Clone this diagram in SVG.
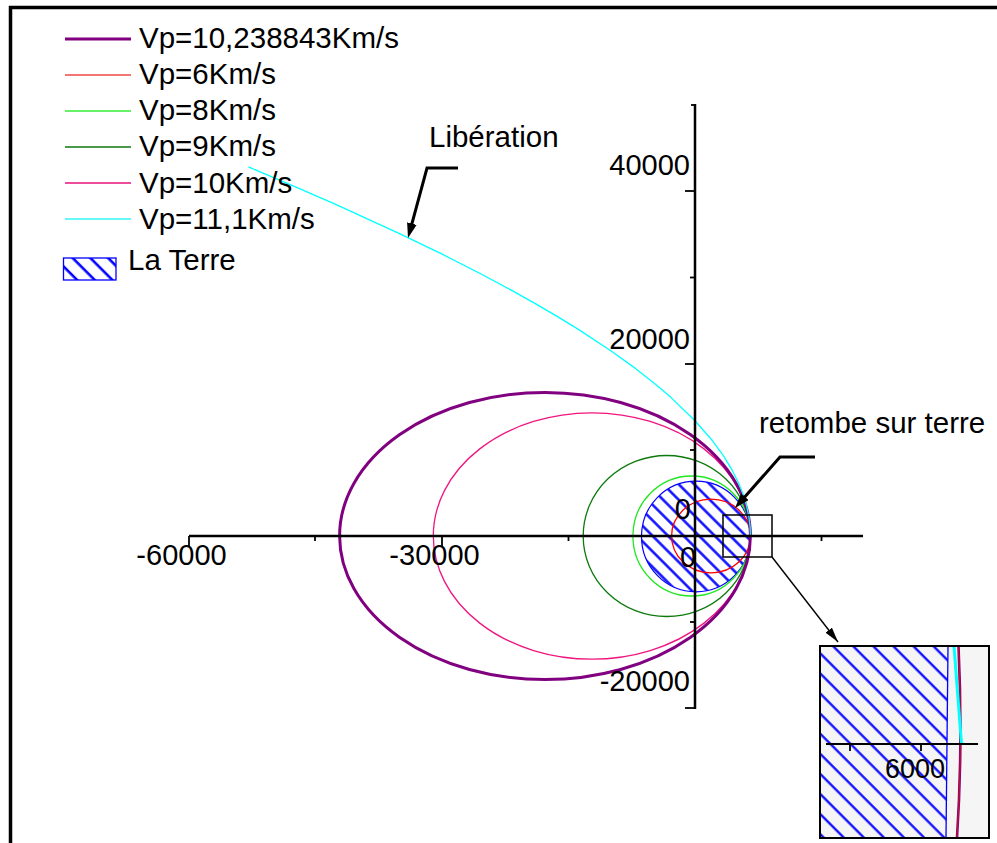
<svg xmlns="http://www.w3.org/2000/svg" width="997" height="843" viewBox="0 0 997 843">
<style>
text{font-family:"Liberation Sans",Arial,sans-serif;font-size:29.5px;fill:#000}
.ax-label{font-size:29px}
.orb{fill:none;stroke-width:1.3}
.ax{stroke:#000;stroke-width:2.5;fill:none}
.tk{stroke:#000;stroke-width:1.8}
.conn{stroke:#000;fill:none}
</style>
<defs>
<pattern id="hatch" patternUnits="userSpaceOnUse" width="11" height="11" patternTransform="rotate(45)"><line x1="0" y1="5.5" x2="11" y2="5.5" stroke="#0000ff" stroke-width="2.4"/></pattern>
<pattern id="hatchL" patternUnits="userSpaceOnUse" width="12.5" height="12.5" patternTransform="rotate(45)"><line x1="0" y1="6" x2="12.5" y2="6" stroke="#0000ff" stroke-width="2.6"/></pattern>
<pattern id="hatchI" patternUnits="userSpaceOnUse" width="14.2" height="14.2" patternTransform="translate(0,4) rotate(45)"><line x1="0" y1="7" x2="14.2" y2="7" stroke="#0000ff" stroke-width="2.2"/></pattern>
<marker id="ahB" markerUnits="userSpaceOnUse" viewBox="0 0 15 10" refX="7" refY="5" markerWidth="15" markerHeight="10" orient="auto"><path d="M0,0 L15,5 L0,10 z" fill="#000"/></marker>
<marker id="ahS" markerUnits="userSpaceOnUse" viewBox="0 0 15 8" refX="15" refY="4" markerWidth="15" markerHeight="8" orient="auto"><path d="M0,0 L15,4 L0,8 z" fill="#000"/></marker>
<clipPath id="insetClip"><rect x="820" y="646" width="169" height="192"/></clipPath>
</defs>
<rect x="0" y="0" width="997" height="843" fill="#fff"/>
<g id="frame">
<line x1="9" y1="7.5" x2="997" y2="7.5" stroke="#000" stroke-width="3.5"/>
<line x1="10.5" y1="6" x2="10.5" y2="843" stroke="#000" stroke-width="3.5"/>
</g>
<g id="earth">
<ellipse cx="696" cy="536.5" rx="54.5" ry="55.3" fill="url(#hatch)" stroke="#0000ff" stroke-width="1.2"/>
</g>
<g id="orbits">
<ellipse id="orbit-vp6" class="orb" cx="711" cy="536" rx="39.4" ry="36.9" stroke="#ff0000"/>
<ellipse id="orbit-vp8" class="orb" cx="691.7" cy="536" rx="58.8" ry="60" stroke="#22e622"/>
<ellipse id="orbit-vp9" class="orb" cx="666.8" cy="536" rx="83.6" ry="80.5" stroke="#0d7a0d"/>
<ellipse id="orbit-vp10" class="orb" cx="591.9" cy="536" rx="158.6" ry="123.2" stroke="#f0157f"/>
<ellipse id="orbit-vp10238843" cx="545" cy="536" rx="205.4" ry="143.6" fill="none" stroke="#800080" stroke-width="3"/>
<polyline id="orbit-vp111" class="orb" stroke="#00ffff" stroke-linejoin="round" points="750.45,536 750.03,526.08 748.76,516 746.53,505.58 743.2,494.6 738.55,482.93 732.2,470.2 723.49,455.95 711.6,439.7 695,420.7 671.1,397.6 655.16,383.98 635.4,368.4 610.41,350.51 578.4,329.4 558.8,317.39 536.2,304.1 509.96,289.43 479.2,273 442.69,254.45 399,233.3 334,203.6 294.84,186.53 248.4,166.9"/>
</g>
<g id="axes">
<line class="ax" x1="189" y1="536" x2="863" y2="536"/>
<line class="ax" x1="695" y1="104" x2="695" y2="709"/>
<line class="tk" x1="189" y1="536" x2="189" y2="546"/>
<line class="tk" x1="315" y1="536" x2="315" y2="541"/>
<line class="tk" x1="442" y1="536" x2="442" y2="546"/>
<line class="tk" x1="568.5" y1="536" x2="568.5" y2="541"/>
<line class="tk" x1="821.5" y1="536" x2="821.5" y2="541"/>
<line class="tk" x1="691" y1="105" x2="695" y2="105"/>
<line class="tk" x1="685" y1="191" x2="695" y2="191"/>
<line class="tk" x1="690" y1="277.5" x2="695" y2="277.5"/>
<line class="tk" x1="685" y1="364" x2="695" y2="364"/>
<line class="tk" x1="690" y1="450" x2="695" y2="450"/>
<line class="tk" x1="690" y1="622" x2="695" y2="622"/>
<line class="tk" x1="685" y1="708" x2="695" y2="708"/>
<text class="ax-label" x="181.5" y="565" text-anchor="middle">-60000</text>
<text class="ax-label" x="434.5" y="565" text-anchor="middle">-30000</text>
<text class="ax-label" x="688" y="567" text-anchor="middle">0</text>
<text class="ax-label" x="690" y="175" text-anchor="end">40000</text>
<text class="ax-label" x="690" y="349" text-anchor="end">20000</text>
<text class="ax-label" x="691" y="519" text-anchor="end">0</text>
<text class="ax-label" x="690" y="691" text-anchor="end">-20000</text>
</g>
<g id="legend">
<line x1="65" y1="39" x2="131" y2="39" stroke="#800080" stroke-width="3"/>
<line x1="65" y1="75" x2="131" y2="75" stroke="#f04545" stroke-width="1.3"/>
<line x1="65" y1="111" x2="131" y2="111" stroke="#33ee33" stroke-width="1.3"/>
<line x1="65" y1="147" x2="131" y2="147" stroke="#0d7a0d" stroke-width="1.3"/>
<line x1="65" y1="183" x2="131" y2="183" stroke="#e8107a" stroke-width="1.3"/>
<line x1="65" y1="219" x2="131" y2="219" stroke="#33f5f5" stroke-width="1.3"/>
<text x="139" y="48">Vp=10,238843Km/s</text>
<text x="139" y="84">Vp=6Km/s</text>
<text x="139" y="120">Vp=8Km/s</text>
<text x="139" y="156">Vp=9Km/s</text>
<text x="139" y="192.5">Vp=10Km/s</text>
<text x="139" y="229">Vp=11,1Km/s</text>
<rect x="63.5" y="258" width="52.5" height="22" fill="url(#hatchL)" stroke="#0000ff" stroke-width="1.3"/>
<text x="128" y="269.5">La Terre</text>
</g>
<g id="label-liberation"><text x="429" y="147">Libération</text></g>
<g id="label-retombe"><text x="759" y="433">retombe sur terre</text></g>
<g id="zoom-box"><rect x="723" y="515" width="49" height="42" fill="none" stroke="#000" stroke-width="1.5"/></g>
<g id="connectors">
<path class="conn" stroke-width="3" d="M458,168 L427,168 L410.1,230.3" marker-end="url(#ahB)"/>
<path class="conn" stroke-width="3" d="M815,457 L780,457 L740.3,502" marker-end="url(#ahB)"/>
<path class="conn" stroke-width="1.4" d="M772,557 L838,642" marker-end="url(#ahS)"/>
</g>
<g id="inset">
<rect x="820" y="646" width="169" height="192" fill="#f5f5f5"/>
<g clip-path="url(#insetClip)">
<path d="M820,646 L948,646 Q947,742 946,838 L820,838 z" fill="url(#hatchI)"/>
<path d="M948,646 Q947,742 946,838" fill="none" stroke="#0000ff" stroke-width="1.3"/>
<path d="M958.5,646 Q963,744 957,838" fill="none" stroke="#800080" stroke-width="2.6"/>
<path d="M958.5,646 Q963,744 957,838" fill="none" stroke="#c0102a" stroke-width="1.2"/>
<path d="M954,646 L961.5,744" fill="none" stroke="#00ffff" stroke-width="3"/>
</g>
<line x1="826" y1="744" x2="978" y2="744" stroke="#000" stroke-width="2.2"/>
<line class="tk" x1="850" y1="744" x2="850" y2="751"/>
<line class="tk" x1="921" y1="744" x2="921" y2="751"/>
<text x="915" y="778" text-anchor="middle" style="font-size:27px">6000</text>
<rect x="820" y="646" width="169" height="192" fill="none" stroke="#000" stroke-width="2"/>
</g>
</svg>
